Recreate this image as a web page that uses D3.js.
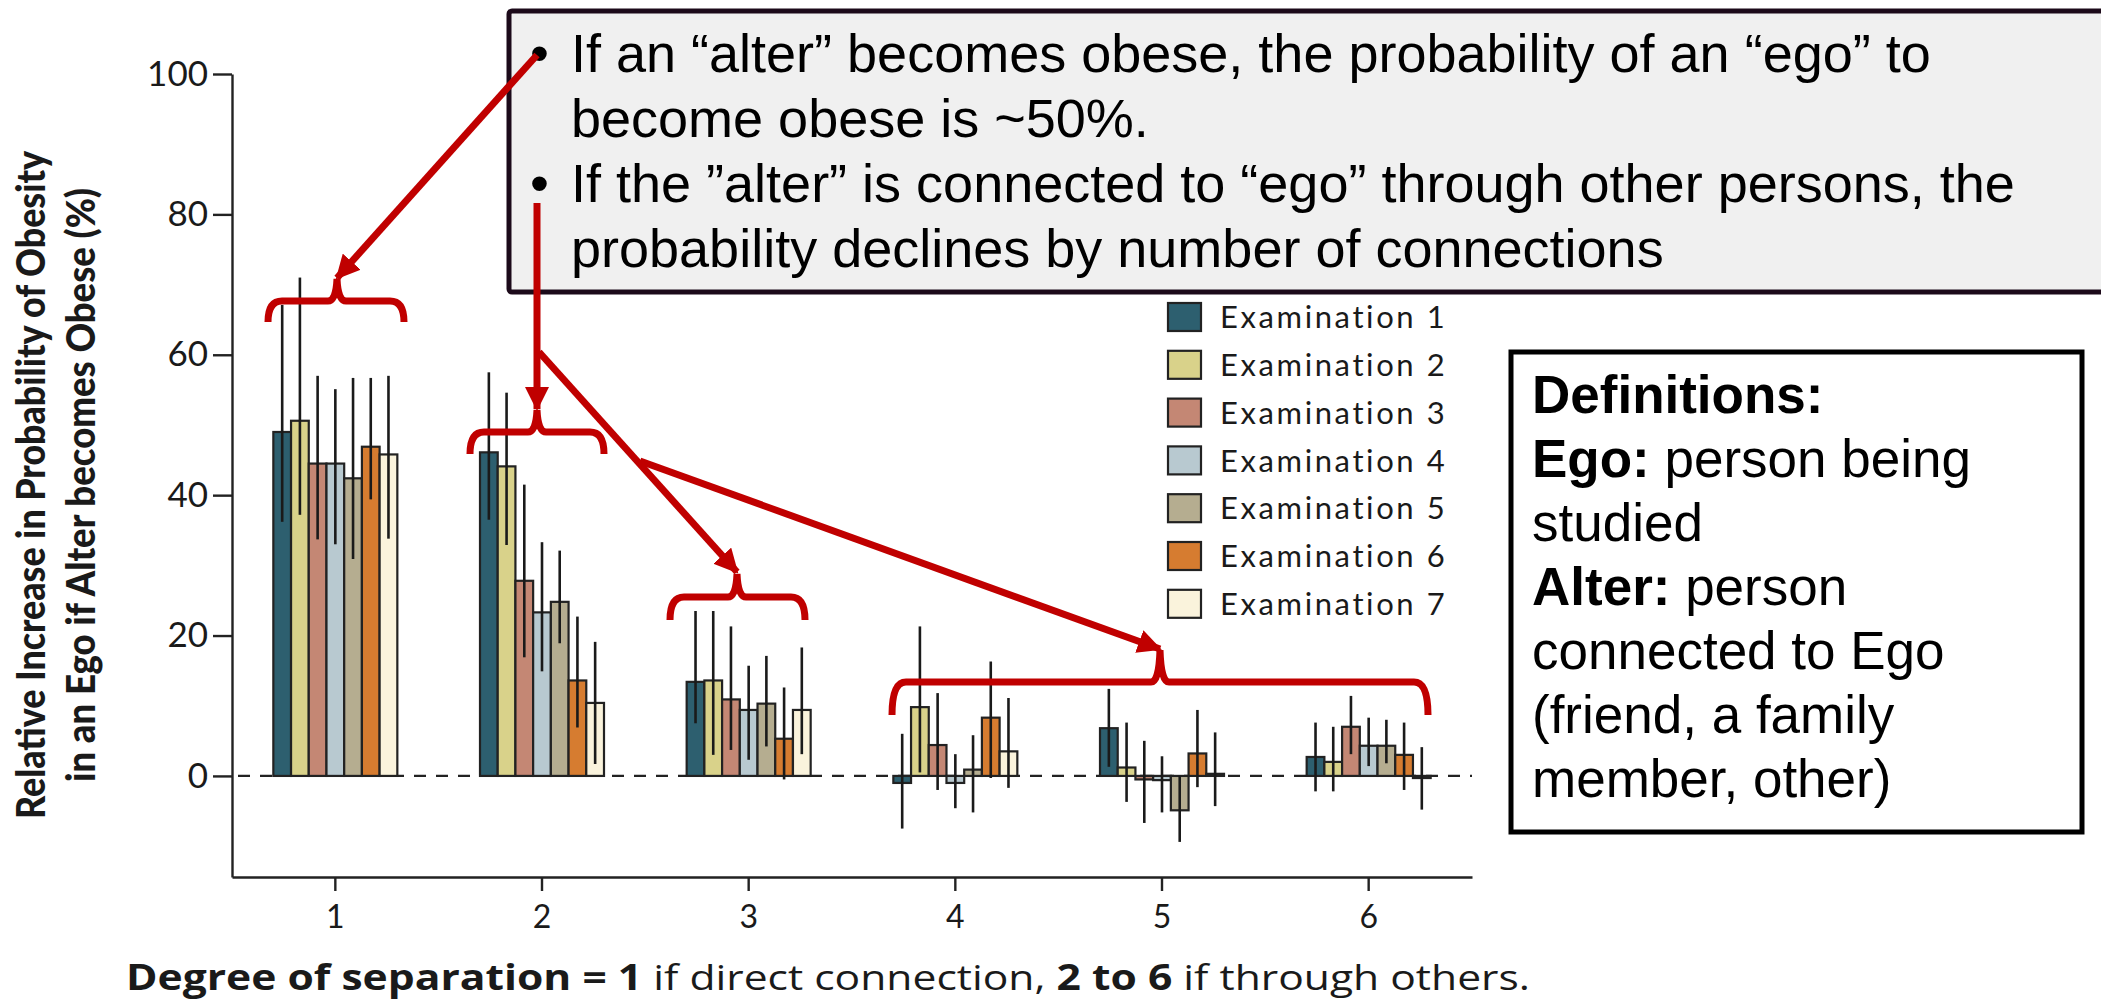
<!DOCTYPE html>
<meta charset="utf-8">
<script src="https://d3js.org/d3.v7.min.js"></script>
<style>
body { margin: 0; background: #fff; }
#chart text { font-family: Lato, "Open Sans", sans-serif; fill: #1a1a1a; }
</style>
<div id="chart"></div>
<script>

// degrees of separation (x categories)
var degrees = [1, 2, 3, 4, 5, 6];
var exams = ["Examination 1", "Examination 2", "Examination 3", "Examination 4",
             "Examination 5", "Examination 6", "Examination 7"];
var examColors = ["#2d5f6f", "#d9d28a", "#c48774", "#b8c9d0", "#b5ad90", "#d67c30", "#faf3dc"];

// relative increase (%), one row per degree, one column per examination
var values = [
  [49.0, 50.6, 44.5, 44.5, 42.4, 46.9, 45.8],
  [46.1, 44.1, 27.8, 23.3, 24.8, 13.6, 10.4],
  [13.4, 13.6, 10.9, 9.4, 10.3, 5.3, 9.4],
  [-1.0, 9.8, 4.4, -1.0, 0.9, 8.3, 3.5],
  [6.8, 1.2, -0.5, -0.6, -4.9, 3.2, 0.3],
  [2.7, 2.0, 7.0, 4.3, 4.3, 3.0, -0.3]
];
var upper = [
  [67.1, 71.0, 57.0, 55.1, 56.7, 56.7, 57.0],
  [57.5, 54.6, 41.5, 33.3, 32.1, 22.7, 19.1],
  [23.5, 23.5, 21.3, 15.7, 17.1, 12.6, 18.3],
  [6.0, 21.3, 11.8, 3.1, 5.8, 16.3, 11.1],
  [12.4, 7.6, 5.0, 2.8, 0.0, 9.4, 6.2],
  [7.6, 7.0, 11.4, 8.3, 8.0, 7.6, 4.1]
];
var lower = [
  [36.2, 37.2, 33.7, 33.0, 30.9, 39.4, 33.8],
  [36.5, 32.9, 16.9, 14.9, 18.9, 6.9, 1.7],
  [7.5, 3.0, 3.7, 2.3, 4.2, -0.5, 3.1],
  [-7.5, 0.5, -2.0, -4.6, -5.2, -0.3, -1.7],
  [1.3, -3.7, -6.7, -5.2, -9.4, -1.6, -4.3],
  [-2.2, -2.2, 3.1, 1.4, 1.8, -2.0, -4.8]
];
var yTicks = [0, 20, 40, 60, 80, 100];

var calloutLines = [
  "If an \u201calter\u201d becomes obese, the probability of an \u201cego\u201d to",
  "become obese is ~50%.",
  "If the \u201dalter\u201d is connected to \u201cego\u201d through other persons, the",
  "probability declines by number of connections"
];

var W = 2101, H = 1002;
var red = "#c00000";

var svg = d3.select("#chart").append("svg")
  .attr("width", W).attr("height", H);

// scales
var x0 = d3.scaleBand().domain(degrees).range([232, 1472])
  .paddingInner(0.4).paddingOuter(0.2);
var x1 = d3.scaleBand().domain(d3.range(exams.length)).range([0, x0.bandwidth()]);
var y = d3.scaleLinear().domain([-14.4, 100]).range([877, 74]);

// axes
var yAxis = svg.append("g")
  .attr("transform", "translate(232,0)")
  .call(d3.axisLeft(y).tickValues(yTicks).tickSize(19).tickSizeOuter(0).tickPadding(5));
yAxis.selectAll("text").style("font-size", "35px");
yAxis.selectAll("line, path").attr("stroke", "#222").attr("stroke-width", 2.4);

var xAxis = svg.append("g")
  .attr("transform", "translate(0,877)")
  .call(d3.axisBottom(x0).tickSize(14).tickSizeOuter(0).tickPadding(14));
xAxis.selectAll("text").style("font-size", "32px");
xAxis.selectAll("line, path").attr("stroke", "#222").attr("stroke-width", 2.4);

// zero line
svg.append("line")
  .attr("x1", 238).attr("x2", 1472)
  .attr("y1", y(0)).attr("y2", y(0))
  .attr("stroke", "#222").attr("stroke-width", 2.4)
  .attr("stroke-dasharray", "12,10");

// bars
var groups = svg.selectAll("g.grp")
  .data(degrees)
  .enter().append("g")
  .attr("class", "grp")
  .attr("transform", function(d) { return "translate(" + x0(d) + ",0)"; });

groups.selectAll("rect")
  .data(function(d, i) { return values[i].map(function(v, j) { return {v: v, j: j}; }); })
  .enter().append("rect")
  .attr("x", function(d) { return x1(d.j); })
  .attr("width", x1.bandwidth())
  .attr("y", function(d) { return y(Math.max(0, d.v)); })
  .attr("height", function(d) { return Math.abs(y(d.v) - y(0)); })
  .attr("fill", function(d) { return examColors[d.j]; })
  .attr("stroke", "#222")
  .attr("stroke-width", 2.2);

// error bars
groups.selectAll("line.err")
  .data(function(d, i) { return upper[i].map(function(u, j) { return {u: u, l: lower[i][j], j: j}; }); })
  .enter().append("line")
  .attr("class", "err")
  .attr("x1", function(d) { return x1(d.j) + x1.bandwidth() / 2; })
  .attr("x2", function(d) { return x1(d.j) + x1.bandwidth() / 2; })
  .attr("y1", function(d) { return y(d.u); })
  .attr("y2", function(d) { return y(d.l); })
  .attr("stroke", "#1a1a1a")
  .attr("stroke-width", 2.6);

// y title
var yTitle = svg.append("g").attr("transform", "translate(0,485) rotate(-90)");
yTitle.append("text")
  .attr("x", 0).attr("y", 45)
  .attr("text-anchor", "middle")
  .attr("textLength", 668).attr("lengthAdjust", "spacingAndGlyphs")
  .style("font-size", "40px").style("font-weight", "900")
  .text("Relative Increase in Probability of Obesity");
yTitle.append("text")
  .attr("x", 0).attr("y", 95)
  .attr("text-anchor", "middle")
  .attr("textLength", 594).attr("lengthAdjust", "spacingAndGlyphs")
  .style("font-size", "40px").style("font-weight", "900")
  .text("in an Ego if Alter becomes Obese (%)");

// legend
var legend = svg.append("g").attr("transform", "translate(1168,317)");
var li = legend.selectAll("g").data(exams).enter().append("g")
  .attr("transform", function(d, i) { return "translate(0," + (i * 47.8) + ")"; });
li.append("rect")
  .attr("x", 0).attr("y", -14).attr("width", 33).attr("height", 28)
  .attr("fill", function(d, i) { return examColors[i]; })
  .attr("stroke", "#222").attr("stroke-width", 2.2);
li.append("text")
  .attr("x", 52).attr("y", 0).attr("dy", "0.36em")
  .style("font-size", "31px").style("letter-spacing", "2.6px")
  .text(function(d) { return d; });

// caption
var cap = svg.append("text")
  .attr("x", 126).attr("y", 990)
  .attr("textLength", 1404).attr("lengthAdjust", "spacingAndGlyphs")
  .style("font-family", "'Open Sans', sans-serif")
  .style("font-size", "35px");
cap.append("tspan").style("font-weight", "bold").text("Degree of separation = 1");
cap.append("tspan").text(" if direct connection, ");
cap.append("tspan").style("font-weight", "bold").text("2 to 6");
cap.append("tspan").text(" if through others.");

// callout box
svg.append("rect")
  .attr("x", 509).attr("y", 11).attr("width", 1620).attr("height", 281)
  .attr("rx", 3)
  .attr("fill", "#f0f0f0").attr("stroke", "#1c0a1a").attr("stroke-width", 5);
var callout = svg.append("g");
calloutLines.forEach(function(t, i) {
  var yy = 72 + i * 65;
  if (i === 0 || i === 2) {
    callout.append("text").attr("x", 530).attr("y", yy)
      .style("font-family", "'Liberation Sans', Arial, sans-serif")
      .style("font-size", "54px").style("fill", "#000").text("\u2022");
  }
  callout.append("text").attr("x", 571).attr("y", yy)
    .style("font-family", "'Liberation Sans', Arial, sans-serif")
    .style("font-size", "54px").style("fill", "#000").text(t);
});

// definitions box
svg.append("rect")
  .attr("x", 1511).attr("y", 352).attr("width", 571).attr("height", 480)
  .attr("fill", "#fff").attr("stroke", "#000").attr("stroke-width", 5);
var defs = [
  [["Definitions:", true]],
  [["Ego:", true], [" person being", false]],
  [["studied", false]],
  [["Alter:", true], [" person", false]],
  [["connected to Ego", false]],
  [["(friend, a family", false]],
  [["member, other)", false]]
];
defs.forEach(function(line, i) {
  var t = svg.append("text").attr("x", 1532).attr("y", 413 + i * 64)
    .style("font-family", "'Liberation Sans', Arial, sans-serif")
    .style("font-size", "53px").style("fill", "#000");
  line.forEach(function(p) {
    t.append("tspan").style("font-weight", p[1] ? "bold" : "normal").text(p[0]);
  });
});

// red annotation: braces and arrows
var marker = svg.append("defs").append("marker")
  .attr("id", "head").attr("markerUnits", "userSpaceOnUse")
  .attr("viewBox", "0 -12 24 24").attr("refX", 22).attr("refY", 0)
  .attr("markerWidth", 24).attr("markerHeight", 24).attr("orient", "auto");
marker.append("path").attr("d", "M0,-12L24,0L0,12Z").attr("fill", red);

var braces = [
  {x0: 268, x1: 404, mid: 337, top: 301, bot: 322, tip: 279},
  {x0: 470, x1: 604, mid: 537, top: 432, bot: 454, tip: 410},
  {x0: 670, x1: 805, mid: 737, top: 597, bot: 620, tip: 574},
  {x0: 892, x1: 1428, mid: 1160, top: 682, bot: 715, tip: 650}
];
braces.forEach(function(b) {
  var r = 14;
  var p = d3.path();
  p.moveTo(b.x0, b.bot);
  p.quadraticCurveTo(b.x0, b.top, b.x0 + r, b.top);
  p.lineTo(b.mid - 9, b.top);
  p.quadraticCurveTo(b.mid - 1, b.top, b.mid, b.tip);
  p.quadraticCurveTo(b.mid + 1, b.top, b.mid + 9, b.top);
  p.lineTo(b.x1 - r, b.top);
  p.quadraticCurveTo(b.x1, b.top, b.x1, b.bot);
  svg.append("path").attr("d", p.toString())
    .attr("fill", "none").attr("stroke", red).attr("stroke-width", 7);
});

var arrows = [
  [537, 55, 337, 278],
  [537, 203, 537, 409],
  [539, 352, 737, 572],
  [640, 461, 1160, 649]
];
arrows.forEach(function(a) {
  svg.append("line")
    .attr("x1", a[0]).attr("y1", a[1]).attr("x2", a[2]).attr("y2", a[3])
    .attr("stroke", red).attr("stroke-width", 7)
    .attr("marker-end", "url(#head)");
});

</script>
